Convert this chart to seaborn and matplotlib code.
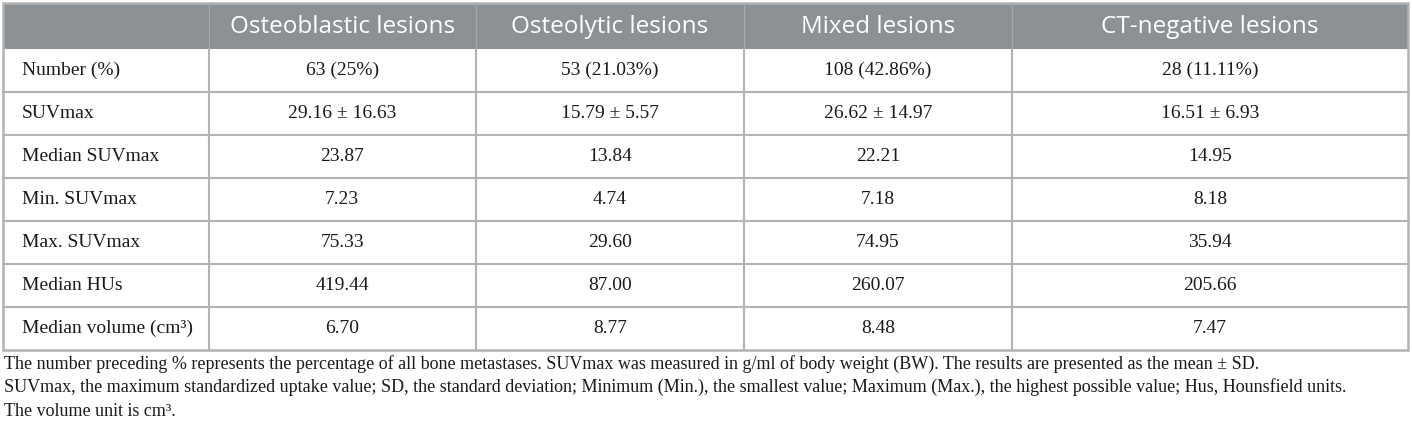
import matplotlib
matplotlib.use("Agg")
import matplotlib.pyplot as plt
from matplotlib.patches import Rectangle
import seaborn as sns

# table content
row_labels = ["Number (%)", "SUVmax", "Median SUVmax", "Min. SUVmax",
              "Max. SUVmax", "Median HUs", "Median volume (cm\u00b3)"]
col_labels = ["Osteoblastic lesions", "Osteolytic lesions",
              "Mixed lesions", "CT-negative lesions"]
osteoblastic = ["63 (25%)", "29.16 \u00b1 16.63", "23.87", "7.23", "75.33", "419.44", "6.70"]
osteolytic = ["53 (21.03%)", "15.79 \u00b1 5.57", "13.84", "4.74", "29.60", "87.00", "8.77"]
mixed = ["108 (42.86%)", "26.62 \u00b1 14.97", "22.21", "7.18", "74.95", "260.07", "8.48"]
ct_negative = ["28 (11.11%)", "16.51 \u00b1 6.93", "14.95", "8.18", "35.94", "205.66", "7.47"]
footnotes = [
    "The number preceding % represents the percentage of all bone metastases. "
    "SUVmax was measured in g/ml of body weight (BW). The results are presented as the mean \u00b1 SD.",
    "SUVmax, the maximum standardized uptake value; SD, the standard deviation; "
    "Minimum (Min.), the smallest value; Maximum (Max.), the highest possible value; Hus, Hounsfield units.",
    "The volume unit is cm\u00b3.",
]

columns = [osteoblastic, osteolytic, mixed, ct_negative]

# layout in pixels
W, H = 1412, 428
col_edges = [3, 208.5, 476, 744, 1012, 1408]
top, header_bottom, row_h = 3, 49, 43
header_color = "#8b9195"
grid_color = "#b3b3b3"

sns.set_theme(style="white")
fig = plt.figure(figsize=(W / 100, H / 100), dpi=100)
ax = fig.add_axes([0, 0, 1, 1])
ax.set_xlim(0, W)
ax.set_ylim(H, 0)
ax.axis("off")

bottom = header_bottom + row_h * len(row_labels)

# header band
ax.add_patch(Rectangle((col_edges[0], top), col_edges[-1] - col_edges[0],
                       header_bottom - top, facecolor=header_color, edgecolor="none"))
for x in col_edges[1:-1]:
    ax.plot([x, x], [top, header_bottom], color="#a6abad", lw=0.9)
    ax.plot([x, x], [header_bottom, bottom], color=grid_color, lw=1.5)

# horizontal rules
for i in range(1, len(row_labels)):
    y = header_bottom + row_h * i
    ax.plot([col_edges[0], col_edges[-1]], [y, y], color=grid_color, lw=1.5)

# outer border
ax.add_patch(Rectangle((col_edges[0], top), col_edges[-1] - col_edges[0], bottom - top,
                       facecolor="none", edgecolor=grid_color, lw=1.8))

# header labels
for j, lab in enumerate(col_labels):
    cx = (col_edges[j + 1] + col_edges[j + 2]) / 2
    ax.text(cx, (top + header_bottom) / 2 + 1, lab, color="white", fontsize=17.5,
            family="Open Sans", ha="center", va="center")

# body
serif = "Liberation Serif"
for i, lab in enumerate(row_labels):
    cy = header_bottom + row_h * (i + 0.5)
    ax.text(22, cy, lab, fontsize=14, family=serif, color="#1a1a1a", ha="left", va="center")
    for j, col in enumerate(columns):
        cx = (col_edges[j + 1] + col_edges[j + 2]) / 2
        ax.text(cx, cy, col[i], fontsize=14, family=serif, color="#1a1a1a",
                ha="center", va="center")

# footnotes
for k, note in enumerate(footnotes):
    ax.text(4, 364 + 23.5 * k, note, fontsize=13, family=serif, color="#1a1a1a",
            ha="left", va="center")

fig.savefig("out.png", dpi=100, facecolor="white")
